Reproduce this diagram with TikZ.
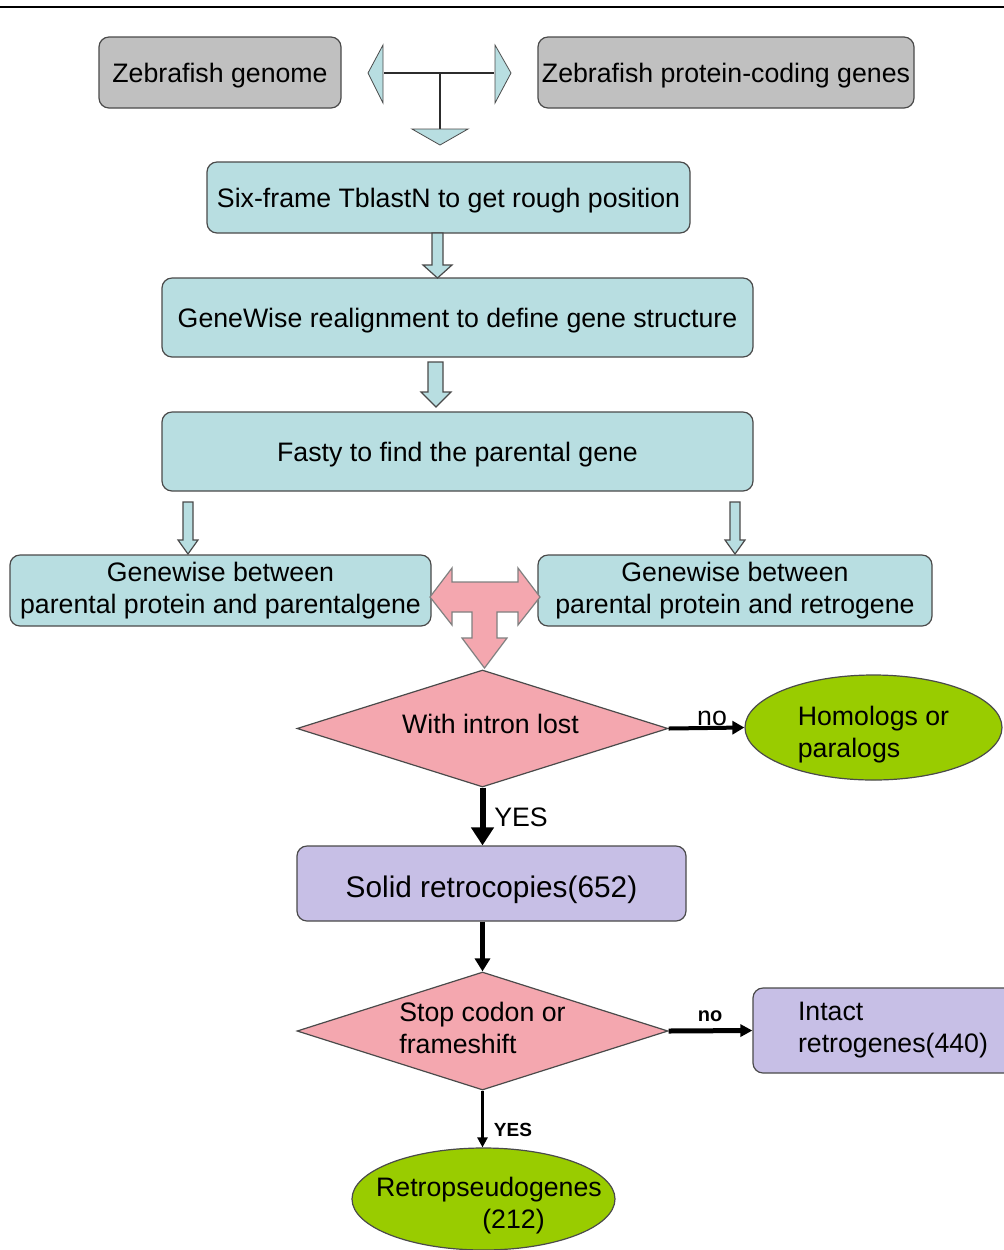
\documentclass[tikz,border=0pt]{standalone}
\usepackage{fontspec}
\setmainfont{Liberation Sans}
\usetikzlibrary{shapes.geometric,arrows.meta}
\definecolor{boxgray}{HTML}{C0C0C0}
\definecolor{boxblue}{HTML}{B8DEE1}
\definecolor{boxpink}{HTML}{F4A7AF}
\definecolor{boxgreen}{HTML}{99CC00}
\definecolor{boxlav}{HTML}{C7BFE6}
\definecolor{edgec}{HTML}{4A4A4A}
\newcommand{\fsz}{\fontsize{13.35}{16}\selectfont}
\tikzset{
  basebox/.style={draw=edgec, line width=0.6pt, rounded corners=5pt, inner sep=0pt, font=\fsz, align=center},
  oneline/.style={text height=9.9pt, text depth=0pt},
  graybox/.style={basebox, fill=boxgray},
  bluebox/.style={basebox, fill=boxblue},
  lavbox/.style={basebox, fill=boxlav},
  dia/.style={diamond, draw=edgec, line width=0.6pt, fill=boxpink, inner sep=0pt},
  ell/.style={ellipse, draw=edgec, line width=0.6pt, fill=boxgreen, inner sep=0pt},
  blockarrow/.style={draw=edgec, line width=0.6pt, fill=boxblue},
  lbl/.style={font=\fsz, inner sep=0pt}
}
\begin{document}
\begin{tikzpicture}[x=0.5pt,y=-0.5pt]
\clip (0,0) rectangle (1004,1250);
\fill[white] (0,0) rectangle (1004,1250);
\draw[line width=1pt] (0,7) -- (1004,7);

% top boxes
\node[graybox, oneline, minimum width=121pt, minimum height=35.5pt] (genome) at (220,72.5) {Zebrafish genome};
\node[graybox, oneline, minimum width=188pt, minimum height=35.5pt] (protein) at (726,72.5) {Zebrafish protein-coding genes};

% T arrow at top
\draw[line width=0.8pt, edgec!60!black] (384,73) -- (494,73);
\draw[line width=0.8pt, edgec!60!black] (440,73) -- (440,130);
\filldraw[blockarrow, line width=0.4pt] (368,73) -- (383,45) -- (383,103) -- cycle;
\filldraw[blockarrow, line width=0.4pt] (511,73) -- (495,45) -- (495,103) -- cycle;
\filldraw[blockarrow, line width=0.4pt] (412,129) -- (468,129) -- (440,145) -- cycle;

% main chain
\node[bluebox, oneline, minimum width=241.5pt, minimum height=35.5pt] (six) at (448.5,197.5) {Six-frame TblastN to get rough position};
\node[bluebox, oneline, minimum width=295.5pt, minimum height=39.5pt] (gw) at (457.5,317.5) {GeneWise realignment to define gene structure};
\node[bluebox, oneline, minimum width=295.5pt, minimum height=39.5pt] (fasty) at (457.5,451.5) {Fasty to find the parental gene};

% block arrows
\filldraw[blockarrow] (432,233) -- (443,233) -- (443,265) -- (452,265) -- (437.5,278) -- (423,265) -- (432,265) -- cycle;
\filldraw[blockarrow] (428,362) -- (443,362) -- (443,392) -- (451,392) -- (436,407) -- (421,392) -- (428,392) -- cycle;
\filldraw[blockarrow] (183,502) -- (193,502) -- (193,540) -- (198,540) -- (188,554) -- (178,540) -- (183,540) -- cycle;
\filldraw[blockarrow] (730,502) -- (740,502) -- (740,540) -- (745,540) -- (735,554) -- (725,540) -- (730,540) -- cycle;

% genewise pair
\node[bluebox, minimum width=210.5pt, minimum height=35.5pt] (gwl) at (220.5,590.5) {Genewise between\\parental protein and parentalgene};
\node[bluebox, minimum width=197pt, minimum height=35.5pt] (gwr) at (735,590.5) {Genewise between\\parental protein and retrogene};

% pink T arrow
\filldraw[draw=edgec!70, line width=0.6pt, fill=boxpink]
  (430,597) -- (452,568) -- (452,582) -- (518,582) -- (518,568) -- (540,597) -- (518,625) -- (518,612)
  -- (497,612) -- (497,638) -- (507,638) -- (484.5,668) -- (462,638) -- (472,638) -- (472,612)
  -- (452,612) -- (452,625) -- cycle;

% decision 1
\node[dia, minimum width=185.5pt, minimum height=58.5pt,
      label={[lbl, xshift=4pt, yshift=2.5pt]center:With intron lost}] (d1) at (482.5,728.5) {};
\node[ell, minimum width=128.5pt, minimum height=52.5pt,
      label={[lbl, align=left, yshift=-3.5pt]center:Homologs or\\paralogs}] (homo) at (873.5,727.5) {};
\draw[line width=2pt, -{Triangle[length=6pt,width=6.5pt]}] (d1.east) -- (homo.west);
\node[lbl] (no1) at (712,718) {no};

\node[lavbox, minimum width=194.5pt, minimum height=37.5pt, text height=13.8pt, text depth=0pt, font=\fontsize{14.9}{18}\selectfont] (solid) at (491.5,883.5) {Solid retrocopies(652)};
\draw[line width=3pt, -{Triangle[length=9pt,width=11pt]}] (d1.south) -- (d1.south |- solid.north);
\node[lbl] (yes1) at (521,817) {YES};

% decision 2
\node[dia, minimum width=185.5pt, minimum height=59pt,
      label={[lbl, align=left, yshift=1.5pt]center:Stop codon or\\frameshift}] (d2) at (482.5,1031) {};
\draw[line width=2.5pt, -{Triangle[length=6.5pt,width=7.5pt]}] (solid.south -| d2.north) -- (d2.north);

\node[lavbox, minimum width=140pt, minimum height=42.5pt, align=left] (intact) at (893,1030.5) {Intact\\retrogenes(440)};
\draw[line width=2.5pt, -{Triangle[length=6pt,width=6pt]}] (d2.east) -- (intact.west);
\node[inner sep=0pt, font=\bfseries\fontsize{10}{12}\selectfont] (no2) at (710,1016) {no};

\node[ell, minimum width=131.5pt, minimum height=51pt,
      label={[lbl, align=center, xshift=2.75pt, yshift=-3.5pt]center:Retropseudogenes\\\hspace*{24.5pt}(212)}] (retro) at (483.5,1199) {};
\draw[line width=1.5pt, -{Triangle[length=5pt,width=5pt]}] (d2.south) -- (d2.south |- retro.north);
\node[inner sep=0pt, font=\bfseries\fontsize{9.5}{12}\selectfont] (yes2) at (513,1130) {YES};
\end{tikzpicture}
\end{document}
